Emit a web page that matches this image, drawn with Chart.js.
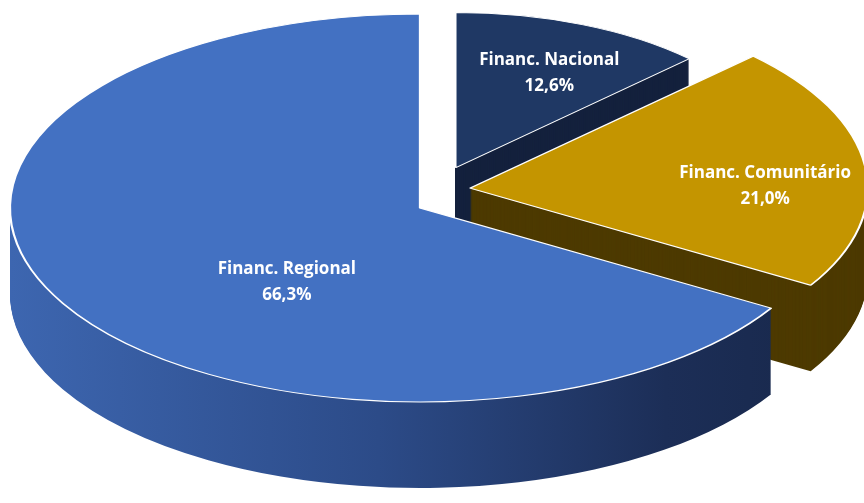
<!DOCTYPE html>
<html><head><meta charset="utf-8">
<script src="https://cdn.jsdelivr.net/npm/chart.js@4"></script>
<style>html,body{margin:0;padding:0;background:#fff;overflow:hidden}#wrap{width:864px;height:503px;position:relative}</style>
</head><body><div id="wrap"><canvas id="c" width="864" height="503"></canvas></div>
<script>
// ---- data ----
const categories = ['Financ. Nacional', 'Financ. Comunitário', 'Financ. Regional'];
const shares = [12.6, 21.0, 66.3];
const valueLabels = ['12,6%', '21,0%', '66,3%'];

// ---- style ----
const topColors = ['#1f3864', '#c49500', '#4371c2'];
const sideColors = ['#14213d', '#4d3a00', null]; // null -> gradient
const S = {
  cx: 420, cy: 208, rx: 410, ry: 194, depth: 86,
  sliceScale: [0.8, 0.97, 1],
  explodeX: [0.225, 0.123, 0],
  explodeY: [0.225, 0.87, 0],
  labelFx: [0.74, 0.747, 0.373],
  labelFy: [0.66, 0.09, 0.78],
  font: 'bold 17px "Open Sans"', lineGap: 26
};

const pie3d = {
  id: 'pie3d',
  beforeDatasetsDraw(chart) {
    const ctx = chart.ctx;
    const els = chart.getDatasetMeta(0).data;
    const anchors = [];
    els.forEach((el, i) => {
      const R = el.outerRadius;
      const k = S.sliceScale[i];
      const sx = k * S.rx / R, sy = k * S.ry / R;
      const mid = (el.startAngle + el.endAngle) / 2;
      const ex = S.explodeX[i] * S.rx * Math.cos(mid);
      const ey = S.explodeY[i] * S.ry * Math.sin(mid);
      const face = (dy, opts) => {
        ctx.save();
        ctx.translate(S.cx + ex, S.cy + ey + dy);
        ctx.scale(sx, sy);
        ctx.translate(-el.x, -el.y);
        const p = Object.create(el);
        p.options = Object.assign({}, el.options, opts);
        el.draw.call(p, ctx);
        ctx.restore();
      };
      let side = sideColors[i];
      if (!side) {
        const g = ctx.createLinearGradient(el.x - R, 0, el.x + R, 0);
        g.addColorStop(0, '#3d66b0');
        g.addColorStop(0.45, '#2c4b88');
        g.addColorStop(0.8, '#1c2e57');
        g.addColorStop(1, '#18284b');
        side = g;
      }
      for (let d = S.depth; d >= 1; d--) face(d, { backgroundColor: side, borderWidth: 0 });
      face(0, {});
      anchors.push([
        S.cx + ex + S.labelFx[i] * k * S.rx * Math.cos(mid),
        S.cy + ey + S.labelFy[i] * k * S.ry * Math.sin(mid)
      ]);
    });
    ctx.save();
    ctx.fillStyle = '#ffffff';
    ctx.font = S.font;
    ctx.textAlign = 'center';
    ctx.textBaseline = 'middle';
    anchors.forEach((a, i) => {
      ctx.fillText(categories[i], a[0], a[1] - S.lineGap / 2);
      ctx.fillText(valueLabels[i], a[0], a[1] + S.lineGap / 2);
    });
    ctx.restore();
    return false;
  }
};

new Chart(document.getElementById('c'), {
  type: 'pie',
  data: {
    labels: categories,
    datasets: [{
      data: shares,
      backgroundColor: topColors,
      borderColor: '#ffffff',
      borderWidth: 1.4
    }]
  },
  options: {
    responsive: false,
    animation: false,
    events: [],
    layout: { padding: 0 },
    plugins: { legend: { display: false }, tooltip: { enabled: false } }
  },
  plugins: [pie3d]
});
</script></body></html>
